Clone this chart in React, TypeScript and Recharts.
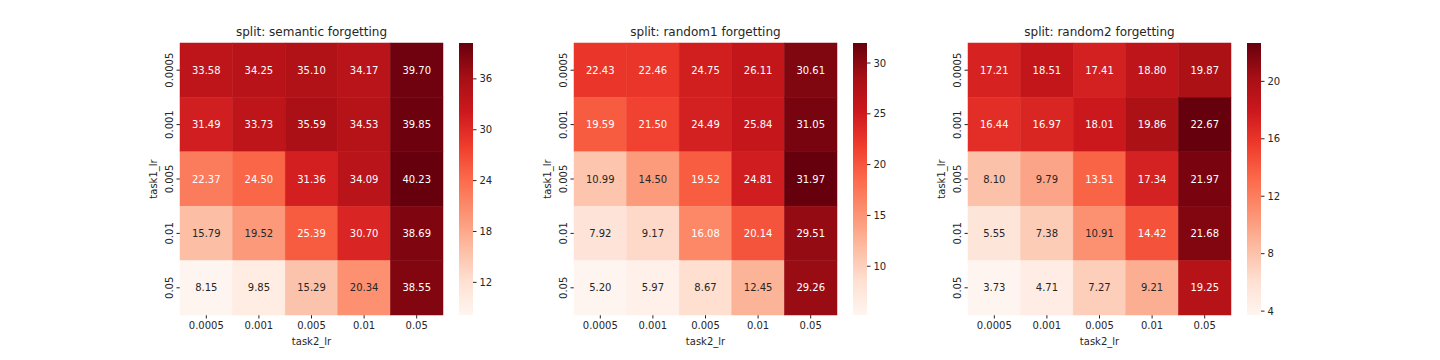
import { ScatterChart, Scatter, XAxis, YAxis, BarChart, Bar } from 'recharts'

const lrLabels = ['0.0005', '0.001', '0.005', '0.01', '0.05']

// rows = task1_lr (top to bottom), columns = task2_lr
const semanticForgetting = [
  [33.58, 34.25, 35.1, 34.17, 39.7],
  [31.49, 33.73, 35.59, 34.53, 39.85],
  [22.37, 24.5, 31.36, 34.09, 40.23],
  [15.79, 19.52, 25.39, 30.7, 38.69],
  [8.15, 9.85, 15.29, 20.34, 38.55],
]
const random1Forgetting = [
  [22.43, 22.46, 24.75, 26.11, 30.61],
  [19.59, 21.5, 24.49, 25.84, 31.05],
  [10.99, 14.5, 19.52, 24.81, 31.97],
  [7.92, 9.17, 16.08, 20.14, 29.51],
  [5.2, 5.97, 8.67, 12.45, 29.26],
]
const random2Forgetting = [
  [17.21, 18.51, 17.41, 18.8, 19.87],
  [16.44, 16.97, 18.01, 19.86, 22.67],
  [8.1, 9.79, 13.51, 17.34, 21.97],
  [5.55, 7.38, 10.91, 14.42, 21.68],
  [3.73, 4.71, 7.27, 9.21, 19.25],
]

const semanticTicks = [12, 18, 24, 30, 36]
const random1Ticks = [10, 15, 20, 25, 30]
const random2Ticks = [4, 8, 12, 16, 20]

const cellTicks = [0.5, 1.5, 2.5, 3.5, 4.5]

// matplotlib "Reds"
const REDS = ['#fff5f0', '#fee0d2', '#fcbba1', '#fc9272', '#fb6a4a', '#ef3b2c', '#cb181d', '#a50f15', '#67000d']

const FONT = '"DejaVu Sans", sans-serif'
const INK = '#262626'
const PLOT_W = 263
const PLOT_H = 272
const PLOT_TOP = 43
const Y_AXIS_W = 60

const hexToRgb = (h: string) => [1, 3, 5].map((i) => parseInt(h.slice(i, i + 2), 16))

function reds(t: number) {
  const c = Math.max(0, Math.min(1, t)) * (REDS.length - 1)
  const i = Math.min(Math.floor(c), REDS.length - 2)
  const f = c - i
  const a = hexToRgb(REDS[i])
  const b = hexToRgb(REDS[i + 1])
  return a.map((v, k) => Math.round(v + (b[k] - v) * f))
}

function luminance(rgb: number[]) {
  const lin = rgb.map((v) => {
    const c = v / 255
    return c <= 0.03928 ? c / 12.92 : Math.pow((c + 0.055) / 1.055, 2.4)
  })
  return 0.2126 * lin[0] + 0.7152 * lin[1] + 0.0722 * lin[2]
}

const YTick = ({ x, y, payload }: any) => (
  <g transform={`translate(${x - 4},${y}) rotate(-90)`}>
    <text textAnchor="middle" dominantBaseline="central" fontSize={10} fontFamily={FONT} fill={INK}>
      {lrLabels[Math.floor(payload.value)]}
    </text>
  </g>
)

interface PanelProps {
  title: string
  values: number[][]
  ticks: number[]
  plotLeft: number
  id: string
}

function Panel({ title, values, ticks, plotLeft, id }: PanelProps) {
  const flat = values.flat()
  const vmin = Math.min(...flat)
  const vmax = Math.max(...flat)
  const points = values.flatMap((row, r) =>
    row.map((value, c) => ({ x: c + 0.5, y: r + 0.5, value }))
  )
  const cw = PLOT_W / 5
  const ch = PLOT_H / 5

  const Cell = (props: any) => {
    const { cx, cy, payload } = props
    const rgb = reds((payload.value - vmin) / (vmax - vmin))
    const fill = `rgb(${rgb.join(',')})`
    return (
      <g>
        <rect x={cx - cw / 2} y={cy - ch / 2} width={cw} height={ch} fill={fill} stroke={fill} strokeWidth={0.5} />
        <text
          x={cx}
          y={cy}
          textAnchor="middle"
          dominantBaseline="central"
          fontSize={10}
          fontFamily={FONT}
          fill={luminance(rgb) > 0.408 ? INK : '#ffffff'}
        >
          {payload.value.toFixed(2)}
        </text>
      </g>
    )
  }

  const cbData = [{ name: 'cb', range: [vmin, vmax] }]

  return (
    <>
      <div
        style={{
          position: 'absolute',
          left: plotLeft,
          top: 25,
          width: PLOT_W,
          textAlign: 'center',
          fontFamily: FONT,
          fontSize: 12,
          lineHeight: '14px',
          color: INK,
        }}
      >
        {title}
      </div>
      <div style={{ position: 'absolute', left: plotLeft - Y_AXIS_W, top: 0 }}>
        <ScatterChart
          width={Y_AXIS_W + PLOT_W + 2}
          height={360}
          margin={{ top: PLOT_TOP, right: 2, bottom: 0, left: 0 }}
        >
          <XAxis
            type="number"
            dataKey="x"
            domain={[0, 5]}
            ticks={cellTicks}
            tickFormatter={(v: number) => lrLabels[Math.floor(v)]}
            axisLine={false}
            tickSize={3.5}
            tickMargin={3}
            height={45}
            tick={{ fontSize: 10, fontFamily: FONT, fill: INK }}
            tickLine={{ stroke: INK }}
            label={(p: any) => (
              <text
                x={p.viewBox.x + p.viewBox.width / 2}
                y={341}
                textAnchor="middle"
                dominantBaseline="central"
                fontSize={10}
                fontFamily={FONT}
                fill={INK}
              >
                task2_lr
              </text>
            )}
          />
          <YAxis
            type="number"
            dataKey="y"
            domain={[0, 5]}
            reversed
            ticks={cellTicks}
            axisLine={false}
            tickSize={3.5}
            tickMargin={3.5}
            width={Y_AXIS_W}
            tick={<YTick />}
            tickLine={{ stroke: INK }}
            label={() => (
              <g transform={`translate(${Y_AXIS_W - 27},${PLOT_TOP + PLOT_H / 2}) rotate(-90)`}>
                <text textAnchor="middle" dominantBaseline="central" fontSize={10} fontFamily={FONT} fill={INK}>
                  task1_lr
                </text>
              </g>
            )}
          />
          <Scatter data={points} shape={Cell} isAnimationActive={false} />
        </ScatterChart>
      </div>
      <div style={{ position: 'absolute', left: plotLeft + PLOT_W + 16, top: 0 }}>
        <BarChart
          width={14 + 40}
          height={360}
          data={cbData}
          margin={{ top: PLOT_TOP, right: 0, bottom: 45, left: 0 }}
          barCategoryGap={0}
        >
          <defs>
            <linearGradient id={`grad-${id}`} x1="0" y1="0" x2="0" y2="1">
              {REDS.map((c, i) => (
                <stop key={i} offset={`${(i / (REDS.length - 1)) * 100}%`} stopColor={REDS[REDS.length - 1 - i]} />
              ))}
            </linearGradient>
          </defs>
          <XAxis dataKey="name" hide />
          <YAxis
            orientation="right"
            type="number"
            domain={[vmin, vmax]}
            ticks={ticks}
            axisLine={false}
            tickSize={3.5}
            tickMargin={3}
            width={40}
            tick={{ fontSize: 10, fontFamily: FONT, fill: INK }}
            tickLine={{ stroke: INK }}
          />
          <Bar dataKey="range" fill={`url(#grad-${id})`} isAnimationActive={false} />
        </BarChart>
      </div>
    </>
  )
}

export default function App() {
  return (
    <div style={{ position: 'absolute', left: 0, top: 0, width: 1440, height: 360, background: '#ffffff' }}>
      <Panel title="split: semantic forgetting" values={semanticForgetting} ticks={semanticTicks} plotLeft={180} id="sem" />
      <Panel title="split: random1 forgetting" values={random1Forgetting} ticks={random1Ticks} plotLeft={574} id="r1" />
      <Panel title="split: random2 forgetting" values={random2Forgetting} ticks={random2Ticks} plotLeft={968} id="r2" />
    </div>
  )
}
